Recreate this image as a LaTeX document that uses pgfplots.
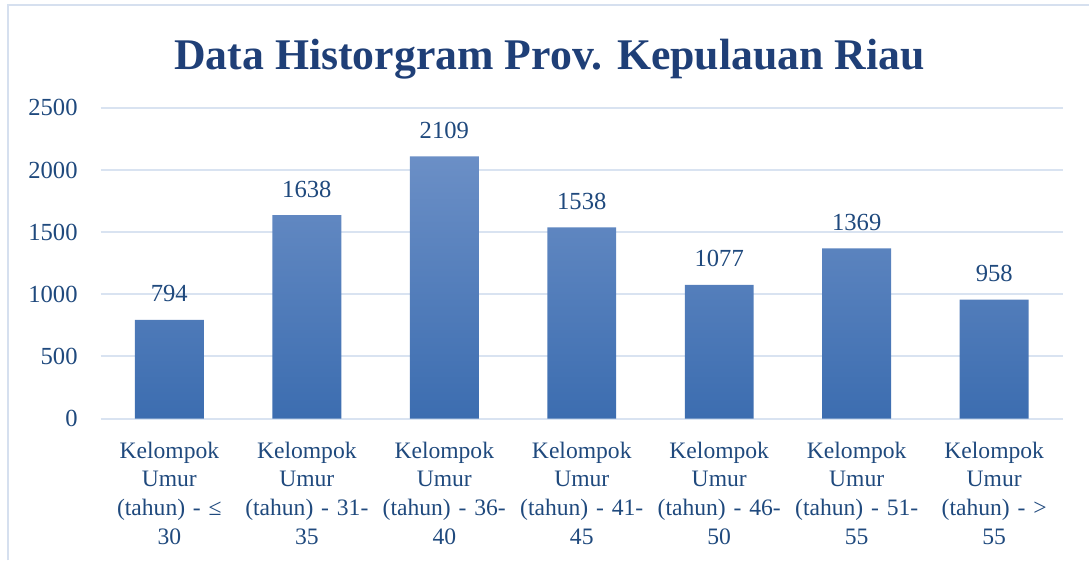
\documentclass[border=0pt]{standalone}
\usepackage{pgfplots}
\pgfplotsset{compat=1.18}
\usepackage{fontspec}
\setmainfont{Liberation Serif}
\definecolor{txt}{HTML}{1F497D}
\definecolor{ttl}{HTML}{1F3F77}
\definecolor{gridc}{HTML}{D9E3F1}
\definecolor{bord}{HTML}{D6E0EF}
\definecolor{bartop}{HTML}{6B8FC6}
\definecolor{barbot}{HTML}{3C6DB0}
\begin{document}
\begin{tikzpicture}[x=0.5pt,y=0.5pt]
\path (0,0) rectangle (1090,561);
\draw[bord, line width=1pt] (8,0) -- (8,556) -- (1090,556);
\node[font=\fontsize{21.9}{27}\selectfont\bfseries, text=ttl, anchor=base] at (550,491) {Data Historgram Prov. Kepulauan Riau};
\begin{axis}[
  at={(50.35pt,71pt)}, anchor=south west,
  scale only axis, width=481.6pt, height=155.5pt,
  xmin=-0.5, xmax=6.5, ymin=0, ymax=2500,
  ytick={0,500,1000,1500,2000,2500},
  xtick={0,1,2,3,4,5,6},
  xticklabels={{Kelompok\\Umur\\(tahun) - ≤\\30},{Kelompok\\Umur\\(tahun) - 31-\\35},{Kelompok\\Umur\\(tahun) - 36-\\40},{Kelompok\\Umur\\(tahun) - 41-\\45},{Kelompok\\Umur\\(tahun) - 46-\\50},{Kelompok\\Umur\\(tahun) - 51-\\55},{Kelompok\\Umur\\(tahun) - >\\55}},
  xticklabel style={text width=68pt, align=center, font=\fontsize{11.8}{14.5}\selectfont, text=txt, anchor=north, yshift=-8pt},
  yticklabel style={font=\fontsize{12.3}{14}\selectfont, text=txt, xshift=-8pt},
  /pgf/number format/assume math mode=true,
  /pgf/number format/1000 sep={},
  axis line style={draw=none},
  major tick length=0pt,
  ymajorgrids=true, xmajorgrids=false,
  major grid style={draw=gridc, line width=1pt},
  ybar, bar width=34.5pt,
  nodes near coords,
  every node near coord/.append style={font=\fontsize{12.3}{14}\selectfont, text=txt, anchor=base, yshift=9pt},
  clip=false,
]
\addplot[draw=none, top color=bartop, bottom color=barbot, bar shift=0pt] coordinates {
(0,794) (1,1638) (2,2109) (3,1538) (4,1077) (5,1369) (6,958)};
\end{axis}
\end{tikzpicture}
\end{document}
